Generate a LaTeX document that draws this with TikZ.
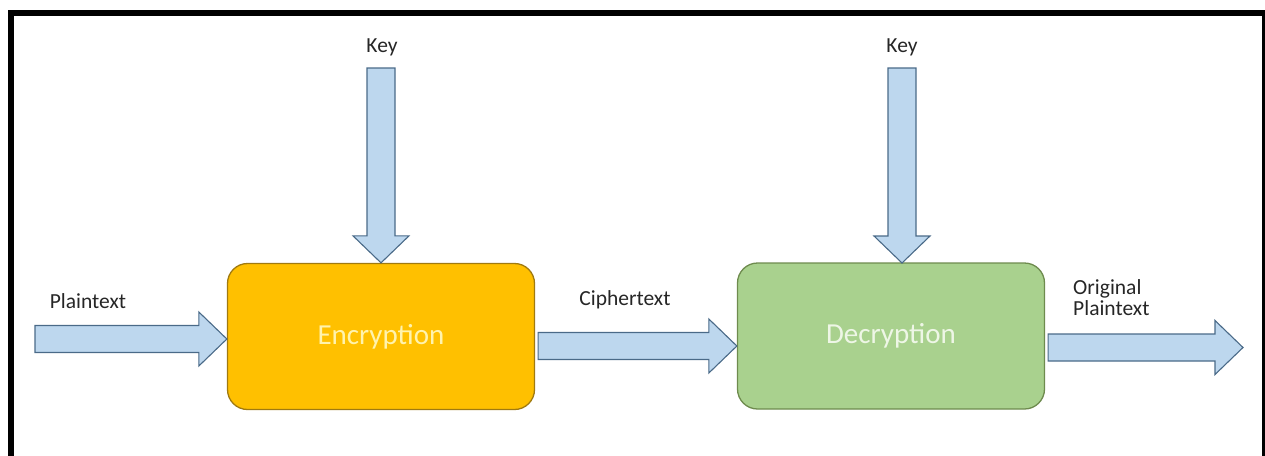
\documentclass[tikz,border=0pt]{standalone}
\usepackage{fontspec}
\setmainfont{Carlito}
\usetikzlibrary{calc}

\definecolor{arrowfill}{HTML}{BDD7EE}
\definecolor{arrowline}{HTML}{4A6A88}
\definecolor{encfill}{HTML}{FFC000}
\definecolor{encline}{HTML}{A07A10}
\definecolor{enctext}{HTML}{FFF3AE}
\definecolor{decfill}{HTML}{A9D18E}
\definecolor{decline}{HTML}{6E8B4E}
\definecolor{dectext}{HTML}{EEF6E6}

\tikzset{
  stagebox/.style={rounded corners=20pt, line width=1.3pt, minimum width=307pt,
    minimum height=146pt, inner sep=0pt, font=\fontsize{29}{33}\selectfont},
  blockarrow/.style={fill=arrowfill, draw=arrowline, line width=1.1pt, line join=miter},
  lbl/.style={font=\fontsize{21.5}{21}\selectfont, inner sep=0pt, text=black!85},
}

\begin{document}
\begin{tikzpicture}[x=1pt, y=-1pt]
\useasboundingbox (0,0) rectangle (1265,455);
\begin{scope}
  \clip (0,0) rectangle (1265,455);
  % outer frame
  \draw[line width=6pt] (11,13) rectangle (1265,475);
\end{scope}

% processing stages
\node[stagebox, fill=encfill, draw=encline, text=enctext] (enc) at (381,336.5) {Encryption};
\node[stagebox, fill=decfill, draw=decline, text=dectext] (dec) at (891,336) {Decryption};

% arrow end points
\coordinate (ptail) at (35,339);
\coordinate (ptip) at (enc.west |- ptail);
\coordinate (ctail) at ($(enc.east |- 0,346)+(3,0)$);
\coordinate (ctip) at (dec.west |- ctail);
\coordinate (otail) at ($(dec.east |- 0,347.5)+(3,0)$);
\coordinate (otip) at (1243,347.5);
\coordinate (k1tail) at (381,68);
\coordinate (k1tip) at (enc.north);
\coordinate (k2tail) at (902,68);
\coordinate (k2tip) at (902,263);

% horizontal block arrows
\foreach \a/\b in {ptail/ptip, ctail/ctip, otail/otip}{
  \draw[blockarrow] let \p1=(\a), \p2=(\b) in
    (\x1,\y1+13.5pt) -- (\x2-28pt,\y1+13.5pt) -- (\x2-28pt,\y1+27pt) -- (\x2,\y1)
    -- (\x2-28pt,\y1-27pt) -- (\x2-28pt,\y1-13.5pt) -- (\x1,\y1-13.5pt) -- cycle;
}
% vertical block arrows (key inputs)
\foreach \a/\b in {k1tail/k1tip, k2tail/k2tip}{
  \draw[blockarrow] let \p1=(\a), \p2=(\b) in
    (\x2-14pt,\y1) -- (\x2-14pt,\y2+27pt) -- (\x2-28pt,\y2+27pt) -- (\x2,\y2)
    -- (\x2+28pt,\y2+27pt) -- (\x2+14pt,\y2+27pt) -- (\x2+14pt,\y1) -- cycle;
}

% labels
\node[lbl] (kl1) at (382,47) {Key};
\node[lbl] (kl2) at (902,47) {Key};
\node[lbl] (pl) at (88,301) {Plaintext};
\node[lbl] (cl) at (625,300) {Ciphertext};
\node[lbl, anchor=west, align=left] (ol) at (1073,298) {Original\\Plaintext};
\end{tikzpicture}
\end{document}
